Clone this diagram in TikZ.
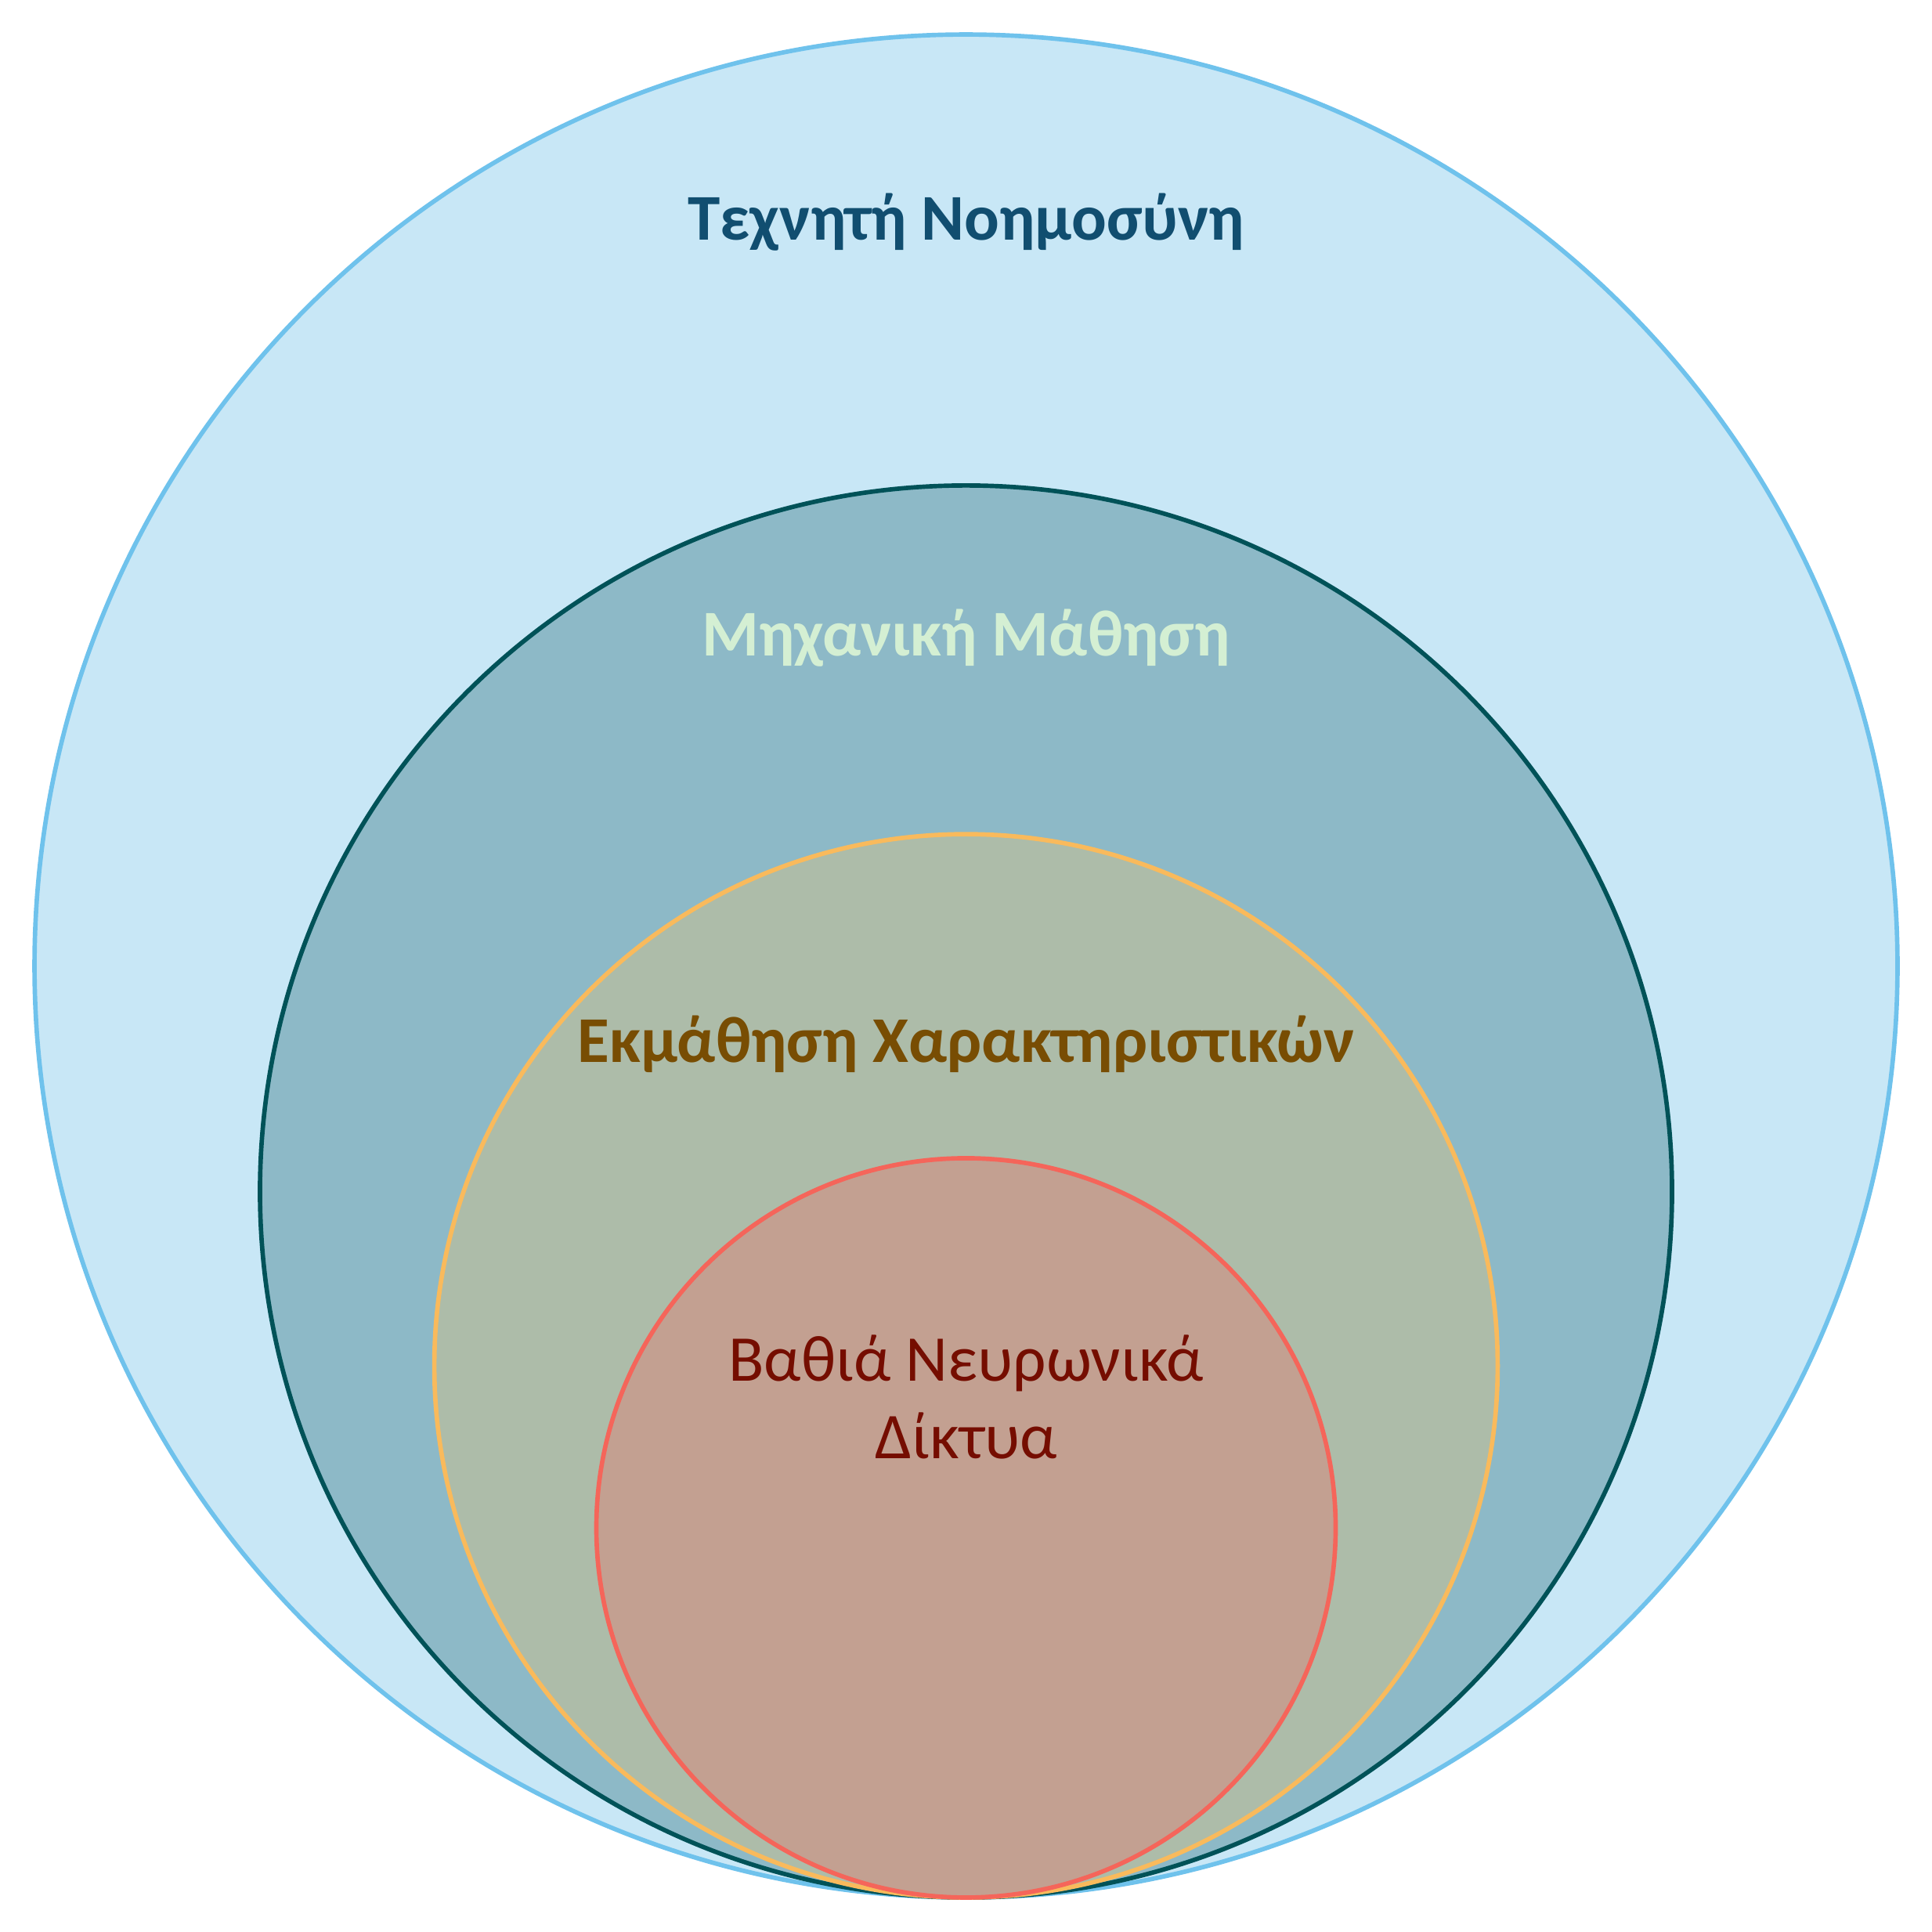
\documentclass[tikz,border=0pt]{standalone}
\usepackage{fontspec}
\setmainfont{Carlito}
\definecolor{aiF}{HTML}{C8E7F6}\definecolor{aiD}{HTML}{6FC2EC}\definecolor{aiT}{HTML}{114E70}
\definecolor{mlF}{HTML}{8DB9C7}\definecolor{mlD}{HTML}{005258}\definecolor{mlT}{HTML}{D4EFD3}
\definecolor{flF}{HTML}{ADBCA9}\definecolor{flD}{HTML}{F9BA5C}\definecolor{flT}{HTML}{784D03}
\definecolor{dnF}{HTML}{C3A091}\definecolor{dnD}{HTML}{F5655A}\definecolor{dnT}{HTML}{750D00}
\tikzset{
  ring/.style={circle,inner sep=0pt,line width=1.8pt},
  lbl/.style={anchor=base,inner sep=0pt,font=\fontsize{26.5}{32}\selectfont},
  blbl/.style={lbl,font=\fontsize{26.5}{32}\selectfont\bfseries},
}
\begin{document}
\begin{tikzpicture}[x=0.5pt,y=-0.5pt]
\useasboundingbox (0,0) rectangle (1568,1568);
\node[ring,fill=aiF,draw=aiD,minimum size=756pt] (ai) at (784,784) {};
\node[ring,fill=mlF,draw=mlD,minimum size=573pt] (ml) at (784,967) {};
\node[ring,fill=flF,draw=flD,minimum size=431.5pt] (fl) at (784,1108.5) {};
\node[ring,fill=dnF,draw=dnD,minimum size=300pt] (dn) at (784,1240) {};
\node[blbl,text=aiT] (tai) at (784,195) {Τεχνητή Νοημοσύνη};
\node[blbl,text=mlT] (tml) at (784,532) {Μηχανική Μάθηση};
\node[blbl,text=flT] (tfl) at (784,862) {Εκμάθηση Χαρακτηριστικών};
\node[lbl,text=dnT] (tdn1) at (784,1121) {Βαθιά Νευρωνικά};
\node[lbl,text=dnT] (tdn2) at (784,1184) {Δίκτυα};
\end{tikzpicture}
\end{document}
